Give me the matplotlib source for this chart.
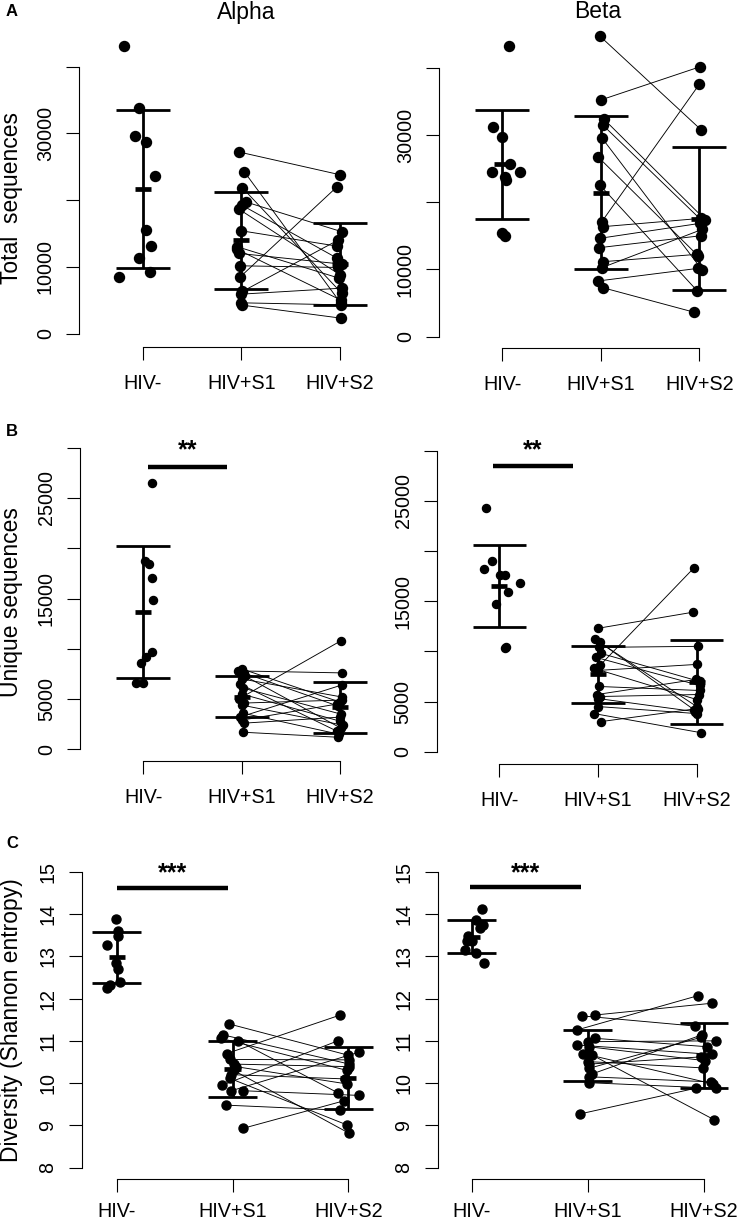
import matplotlib

matplotlib.use('Agg')
import matplotlib.pyplot as plt
import numpy as np

plt.rcParams['font.family'] = ['Liberation Sans', 'DejaVu Sans']

groups = ['HIV-', 'HIV+S1', 'HIV+S2']

# --- A: total sequences ---
alpha_total_neg = [43100, 33750, 29600, 28750, 23650, 15500, 13150, 11350, 8400, 9200]
alpha_total_neg_dx = [-0.19, -0.04, -0.08, 0.03, 0.12, 0.03, 0.08, -0.04, -0.24, 0.07]
alpha_total_s1 = [27200, 24250, 21850, 19700, 19200, 18600, 15400, 13000, 12600, 12000,
                  10150, 8500, 6300, 5900, 4600, 4250]
alpha_total_s1_dx = [-0.02, 0.03, 0.01, 0.05, 0.01, -0.02, 0.0, -0.04, -0.04, -0.02,
                     -0.01, -0.01, 0.01, 0.0, 0.0, 0.01]
alpha_total_s2 = [23800, 4500, 6000, 15250, 11300, 8800, 13100, 8300, 5000, 10400,
                  9900, 22000, 14000, 6800, 4300, 2300]
alpha_total_s2_dx = [0.0, 0.01, 0.02, 0.02, -0.03, 0.0, -0.03, -0.01, 0.01, 0.02,
                     -0.02, -0.03, -0.02, 0.02, 0.01, 0.01]

beta_total_neg = [43220, 31230, 29740, 25680, 24440, 24440, 23790, 23300, 15370, 14970]
beta_total_neg_dx = [0.07, -0.09, 0.0, 0.08, -0.10, 0.18, 0.03, 0.04, 0.0, 0.03]
beta_total_s1 = [44710, 35200, 32370, 31480, 29590, 26770, 22560, 17100, 16360, 14630,
                 13230, 11150, 10260, 8280, 7290]
beta_total_s1_dx = [-0.01, 0.0, 0.03, 0.02, 0.01, -0.03, -0.01, 0.01, 0.02, -0.01,
                    -0.02, 0.02, 0.01, -0.03, 0.02]
beta_total_s2 = [30740, 40150, 17400, 17200, 9900, 12000, 6800, 37530, 17600, 16860,
                 15020, 12250, 15960, 10170, 3630]
beta_total_s2_dx = [0.02, 0.01, 0.06, 0.03, 0.03, -0.01, -0.02, 0.0, 0.02, 0.01,
                    0.02, -0.02, 0.03, -0.01, -0.05]

# --- B: unique sequences ---
alpha_unique_neg = [26520, 18730, 18430, 17010, 14850, 9650, 9150, 8550, 6630, 6630]
alpha_unique_neg_dx = [0.09, 0.02, 0.06, 0.09, 0.10, 0.09, 0.03, -0.02, -0.07, 0.0]
alpha_unique_s1 = [8000, 7800, 7600, 7300, 7000, 6500, 6100, 5500, 5000, 4600,
                   4400, 3600, 3200, 2900, 2600, 1700]
alpha_unique_s1_dx = [0.0, -0.04, 0.02, 0.03, 0.0, -0.02, 0.01, 0.0, -0.03, 0.02,
                      0.0, 0.01, -0.02, 0.0, 0.02, 0.01]
alpha_unique_s2 = [4700, 7600, 4300, 2100, 5200, 1800, 3500, 2800, 10800, 4900,
                   2400, 1500, 6400, 4500, 3200, 1200]
alpha_unique_s2_dx = [0.0, 0.02, -0.02, 0.01, 0.02, -0.03, 0.01, 0.0, 0.01, 0.02,
                      0.03, -0.01, 0.02, -0.03, 0.0, -0.02]

beta_unique_neg = [24320, 19000, 18240, 17640, 17640, 16780, 15910, 14680, 10460, 10360]
beta_unique_neg_dx = [-0.13, -0.07, -0.16, 0.01, 0.06, 0.21, 0.09, -0.03, 0.07, 0.06]
beta_unique_s1 = [12300, 11200, 10900, 10400, 9800, 9400, 8600, 8300, 8100, 6500,
                  5700, 5500, 5300, 4500, 3800, 3000]
beta_unique_s1_dx = [0.0, -0.03, 0.02, 0.01, 0.03, -0.02, 0.02, -0.04, 0.0, 0.01,
                     -0.01, 0.02, 0.0, 0.0, -0.04, 0.03]
beta_unique_s2 = [13900, 4500, 4200, 10500, 7000, 6600, 18300, 5200, 8700, 6100,
                  7200, 5700, 4000, 3800, 1900, 4300]
beta_unique_s2_dx = [-0.04, 0.0, -0.03, 0.01, 0.03, 0.03, -0.03, 0.0, 0.0, 0.03,
                     -0.01, 0.02, -0.02, 0.0, 0.04, 0.01]

# --- C: diversity (Shannon entropy) ---
alpha_div_neg = [13.87, 13.60, 13.49, 13.26, 12.85, 12.71, 12.40, 12.26, 12.32]
alpha_div_neg_dx = [-0.01, 0.01, 0.01, -0.08, -0.01, 0.01, 0.03, -0.08, -0.06]
alpha_div_s1 = [11.40, 11.14, 11.06, 11.00, 10.70, 10.56, 10.45, 10.39, 10.30, 10.20,
                10.11, 9.95, 9.82, 9.82, 9.48, 8.93]
alpha_div_s1_dx = [-0.03, -0.08, -0.10, 0.05, -0.05, -0.02, 0.01, 0.03, 0.01, -0.01,
                   -0.02, -0.09, -0.01, 0.09, -0.06, 0.09]
alpha_div_s2 = [10.66, 10.45, 10.30, 9.77, 11.61, 10.55, 10.39, 9.98, 8.81, 10.10,
                9.01, 11.00, 10.73, 9.71, 9.36, 9.58]
alpha_div_s2_dx = [0.0, 0.01, -0.01, -0.09, -0.07, 0.01, 0.01, -0.01, 0.01, -0.03,
                   -0.01, -0.09, 0.09, 0.09, -0.07, -0.04]

beta_div_neg = [14.11, 13.86, 13.75, 13.66, 13.48, 13.37, 13.37, 13.15, 13.08, 12.83]
beta_div_neg_dx = [0.09, 0.04, 0.10, 0.07, -0.03, -0.04, 0.0, -0.06, 0.04, 0.11]
beta_div_s1 = [11.61, 11.59, 11.26, 11.06, 10.98, 10.90, 10.86, 10.70, 10.66, 10.51,
               10.45, 10.35, 10.22, 10.15, 10.01, 9.27]
beta_div_s1_dx = [0.06, -0.05, -0.09, 0.06, 0.0, -0.09, 0.01, -0.04, 0.04, 0.0,
                  0.01, 0.01, 0.04, 0.01, 0.01, -0.07]
beta_div_s2 = [11.89, 11.35, 12.07, 10.86, 11.00, 10.68, 10.53, 9.98, 9.13, 10.36,
               10.62, 11.08, 11.14, 10.03, 9.88, 9.88]
beta_div_s2_dx = [0.07, -0.08, -0.05, 0.03, 0.10, 0.07, 0.01, 0.08, 0.09, -0.01,
                  -0.03, -0.03, -0.02, 0.06, 0.10, -0.07]

W, H = 737, 1221
fig = plt.figure(figsize=(W / 100, H / 100), dpi=100)


def make_axes(axis_px, cat_px, bracket_px, ref, top_px):
    """Place an axes so that data coords land where the reference puts them (pixels)"""
    p1, p3 = cat_px
    right_px = p3 + 32
    (v0, py0), (v1, py1) = ref
    ax = fig.add_axes([axis_px / W, 1 - bracket_px / H,
                       (right_px - axis_px) / W, (bracket_px - top_px) / H])
    ax.set_xlim(1 + (axis_px - p1) / (p3 - p1) * 2, 1 + (right_px - p1) / (p3 - p1) * 2)

    def val(py):
        return v0 + (py0 - py) / (py0 - py1) * (v1 - v0)

    ax.set_ylim(val(bracket_px), val(top_px))
    ax.patch.set_alpha(0)
    return ax


def draw_panel(ax, neg, neg_dx, s1, s1_dx, s2, s2_dx, yticks, ylabels,
               ms, cap, mtick, xpad=10.0):
    for a, b, da, db in zip(s1, s2, s1_dx, s2_dx):
        ax.plot([2 + da, 3 + db], [a, b], color='black', lw=0.65, clip_on=False, zorder=2)
    for i, (vals, dx) in enumerate([(neg, neg_dx), (s1, s1_dx), (s2, s2_dx)]):
        c = i + 1
        ax.plot(c + np.array(dx), vals, 'o', color='black', ms=ms, clip_on=False, zorder=3)
        m = np.mean(vals)
        s = np.std(vals, ddof=1)
        ax.plot([c, c], [m - s, m + s], color='black', lw=2.0, zorder=4, solid_capstyle='butt')
        ax.plot([c - cap, c + cap], [m + s, m + s], color='black', lw=2.0, zorder=4, solid_capstyle='butt')
        ax.plot([c - cap, c + cap], [m - s, m - s], color='black', lw=2.0, zorder=4, solid_capstyle='butt')
        ax.plot([c - mtick, c + mtick], [m, m], color='black', lw=3.4, zorder=4, solid_capstyle='butt')

    for side in ['top', 'right']:
        ax.spines[side].set_visible(False)
    ax.spines['left'].set_bounds(yticks[0], yticks[-1])
    ax.spines['bottom'].set_bounds(1, 3)
    ax.spines['left'].set_linewidth(0.8)
    ax.spines['bottom'].set_linewidth(0.8)
    ax.set_yticks(yticks)
    ax.set_yticklabels(ylabels)
    ax.set_xticks([1, 2, 3])
    ax.set_xticklabels(groups)
    ax.tick_params(axis='y', length=9.4, width=0.8, pad=8.0, labelsize=14.2)
    ax.tick_params(axis='x', length=9.4, width=0.8, pad=xpad, labelsize=14.2)
    for lab in ax.get_yticklabels():
        lab.set_rotation(90)
        lab.set_va('center')


def sig_bar(ax, x1, x2, y, ty, stars):
    ax.plot([x1, x2], [y, y], color='black', lw=3.2, solid_capstyle='butt', clip_on=False)
    ax.text((x1 + x2) / 2, ty, stars, ha='center', va='center', fontsize=18, fontweight='bold')


ticks_total = [0, 10000, 20000, 30000, 40000]
labels_total = ['0', '10000', '', '30000', '']
ticks_unique = [0, 5000, 10000, 15000, 20000, 25000, 30000]
labels_unique = ['0', '5000', '', '15000', '', '25000', '']
ticks_div = [8, 9, 10, 11, 12, 13, 14, 15]
labels_div = [str(t) for t in ticks_div]

# row A
ax = make_axes(79, (142.7, 340), 346.7, ((0, 333.5), (40000, 66.7)), 25)
draw_panel(ax, alpha_total_neg, alpha_total_neg_dx, alpha_total_s1, alpha_total_s1_dx,
           alpha_total_s2, alpha_total_s2_dx, ticks_total, labels_total, 7.2, 0.275, 0.08)
ax = make_axes(439, (502.3, 699.3), 348.3, ((0, 336.7), (40000, 67.7)), 25)
draw_panel(ax, beta_total_neg, beta_total_neg_dx, beta_total_s1, beta_total_s1_dx,
           beta_total_s2, beta_total_s2_dx, ticks_total, labels_total, 7.2, 0.275, 0.08)

# row B
ax = make_axes(80, (143.3, 340), 761, ((0, 749.3), (30000, 447.7)), 440)
draw_panel(ax, alpha_unique_neg, alpha_unique_neg_dx, alpha_unique_s1, alpha_unique_s1_dx,
           alpha_unique_s2, alpha_unique_s2_dx, ticks_unique, labels_unique, 5.8, 0.275, 0.08)
sig_bar(ax, 1.048, 1.851, 28050, 29700, '**')
ax = make_axes(436.7, (499.3, 696.7), 764.3, ((0, 751.7), (30000, 450.7)), 440)
draw_panel(ax, beta_unique_neg, beta_unique_neg_dx, beta_unique_s1, beta_unique_s1_dx,
           beta_unique_s2, beta_unique_s2_dx, ticks_unique, labels_unique, 5.8, 0.27, 0.08)
sig_bar(ax, 0.939, 1.744, 28475, 30000, '**')

# row C
ax = make_axes(81.7, (116.7, 348.3), 1179, ((8, 1167.7), (15, 871.7)), 860)
draw_panel(ax, alpha_div_neg, alpha_div_neg_dx, alpha_div_s1, alpha_div_s1_dx,
           alpha_div_s2, alpha_div_s2_dx, ticks_div, labels_div, 6.5, 0.21, 0.07, xpad=7.5)
sig_bar(ax, 1.0, 1.964, 14.62, 14.97, '***')
ax = make_axes(437.7, (471.7, 704), 1179, ((8, 1167.7), (15, 871.7)), 860)
draw_panel(ax, beta_div_neg, beta_div_neg_dx, beta_div_s1, beta_div_s1_dx,
           beta_div_s2, beta_div_s2_dx, ticks_div, labels_div, 6.5, 0.21, 0.07, xpad=7.5)
sig_bar(ax, 0.985, 1.941, 14.63, 14.96, '***')

# titles, panel letters, y labels
fig.text(245.8 / W, 1 - 13 / H, 'Alpha', ha='center', va='center', fontsize=16.5)
fig.text(598 / W, 1 - 11 / H, 'Beta', ha='center', va='center', fontsize=16.5)
for letter, py in [('A', 11), ('B', 432), ('C', 843)]:
    fig.text(12 / W, 1 - py / H, letter, ha='center', va='center', fontsize=12, fontweight='bold')
fig.text(12 / W, 1 - 198 / H, 'Total  sequences', rotation=90, ha='center', va='center', fontsize=16.5)
fig.text(12 / W, 1 - 602 / H, 'Unique sequences', rotation=90, ha='center', va='center', fontsize=16.5)
fig.text(12 / W, 1 - 1020 / H, 'Diversity (Shannon entropy)', rotation=90, ha='center', va='center',
         fontsize=16.5)

fig.savefig('out.png', dpi=100)
